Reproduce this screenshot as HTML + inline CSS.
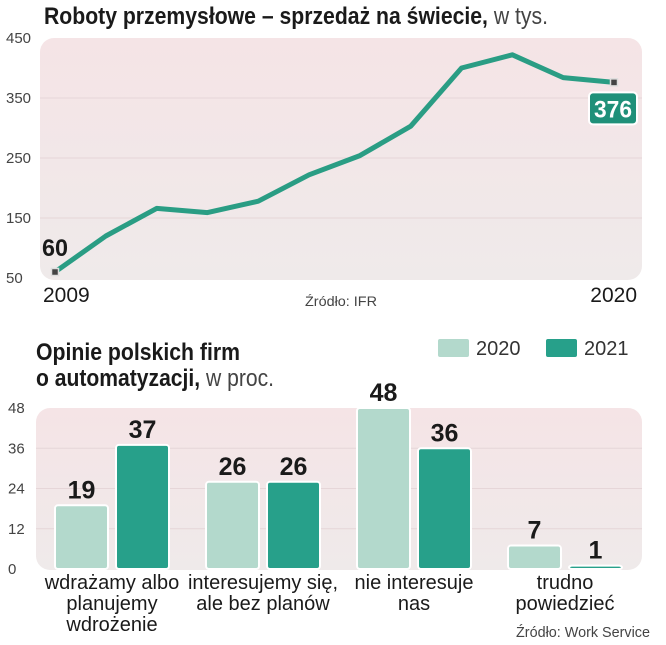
<!DOCTYPE html>
<html><head><meta charset="utf-8"><style>
body{margin:0;background:#fff;width:666px;height:640px;overflow:hidden}
svg text{font-family:"Liberation Sans Narrow","Liberation Sans",sans-serif}
</style></head><body>
<svg id="c" width="666" height="640" xmlns="http://www.w3.org/2000/svg">
<defs>
<linearGradient id="bg" x1="0" y1="0" x2="0" y2="1"><stop offset="0" stop-color="#f5e4e6"/><stop offset="1" stop-color="#efeaea"/></linearGradient>
</defs>
<text x="44" y="24" font-size="24" font-weight="bold" fill="#1a1a1a" textLength="504" lengthAdjust="spacingAndGlyphs">Roboty przemysłowe – sprzedaż na świecie,<tspan font-weight="normal" fill="#444"> w tys.</tspan></text>
<rect x="40" y="38" width="602" height="242" rx="14" fill="url(#bg)"/>
<g id="lineGrid"></g>
<g id="lineMarks"></g>
<text x="43" y="302" font-size="21" fill="#1a1a1a">2009</text>
<text x="637" y="302" font-size="21" fill="#1a1a1a" text-anchor="end">2020</text>
<text x="305" y="306" font-size="14" fill="#444" textLength="72" lengthAdjust="spacingAndGlyphs">Źródło: IFR</text>

<text x="36" y="360" font-size="24" font-weight="bold" fill="#1a1a1a" textLength="204" lengthAdjust="spacingAndGlyphs">Opinie polskich firm</text>
<text x="36" y="386" font-size="24" font-weight="bold" fill="#1a1a1a" textLength="238" lengthAdjust="spacingAndGlyphs">o automatyzacji,<tspan font-weight="normal" fill="#444"> w proc.</tspan></text>
<g>
<rect x="437" y="338" width="33" height="20" rx="3" fill="#b3d9cc" stroke="#fff" stroke-width="2"/>
<text x="476" y="355" font-size="20" fill="#333">2020</text></g>
<g>
<rect x="545" y="338" width="33" height="20" rx="3" fill="#27a08a" stroke="#fff" stroke-width="2"/>
<text x="584" y="355" font-size="20" fill="#333">2021</text></g>
<rect x="36" y="408" width="606" height="162" rx="14" fill="url(#bg)"/>
<g id="barGrid"></g>
<g id="barMarks"></g>
<text x="650" y="637" font-size="15" fill="#444" text-anchor="end" textLength="134" lengthAdjust="spacingAndGlyphs">Źródło: Work Service</text>
</svg>
<script>
const years = [2009,2010,2011,2012,2013,2014,2015,2016,2017,2018,2019,2020];
const sales = [60,120,166,159,178,222,254,303,400,422,384,376];
const lineTicks = [50,150,250,350,450];
const categories = [["wdrażamy albo","planujemy","wdrożenie"],["interesujemy się,","ale bez planów"],["nie interesuje","nas"],["trudno","powiedzieć"]];
const values2020 = [19,26,48,7];
const values2021 = [37,26,36,1];
const barTicks = [0,12,24,36,48];

const NS="http://www.w3.org/2000/svg";
function mk(tag,attrs,parent){const e=document.createElementNS(NS,tag);for(const k in attrs)e.setAttribute(k,attrs[k]);parent.appendChild(e);return e;}
const lx=i=>55+i*(614-55)/(years.length-1);
const ly=v=>278-(v-50)*(240/400);
const lg=document.getElementById('lineGrid'), lm=document.getElementById('lineMarks');
lineTicks.forEach(t=>{
 if(t>50&&t<450){const g=mk('line',{x1:40,x2:642,y1:ly(t),y2:ly(t),stroke:'#e6d6d8','stroke-width':1},lg);
 
 }
 const tx=mk('text',{x:6,y:ly(t)+5,'font-size':15,fill:'#444'},lg);tx.textContent=t;
 
 
});
const pts=sales.map((v,i)=>lx(i)+','+ly(v)).join(' ');
const pl=mk('polyline',{points:pts,fill:'none',stroke:'#2a9d84','stroke-width':5,'stroke-linejoin':'round'},lm);


[0,sales.length-1].forEach(i=>{
 const m=mk('rect',{x:lx(i)-3.5,y:ly(sales[i])-3.5,width:7,height:7,fill:'#444',stroke:'#ddd','stroke-width':1.5},lm);
 
 
});
const t0=mk('text',{x:42,y:ly(sales[0])-16,'font-size':24,'font-weight':'bold',fill:'#1a1a1a',textLength:26,lengthAdjust:'spacingAndGlyphs'},lm);t0.textContent=sales[0];


const n=sales.length-1;
const bx=mk('rect',{x:lx(n)-25,y:ly(sales[n])+10,width:48,height:32,rx:4,fill:'#1f9079',stroke:'#fff','stroke-width':2},lm);


const t1=mk('text',{x:lx(n)-1,y:ly(sales[n])+35,'font-size':24,'font-weight':'bold',fill:'#fff','text-anchor':'middle',textLength:38,lengthAdjust:'spacingAndGlyphs'},lm);t1.textContent=sales[n];


const by=v=>569-v*(161/48);
const bg=document.getElementById('barGrid'), bm=document.getElementById('barMarks');
barTicks.forEach(t=>{
 if(t>0&&t<48){const g=mk('line',{x1:36,x2:642,y1:by(t),y2:by(t),stroke:'#e6d6d8','stroke-width':1},bg);
 
 }
 const tx=mk('text',{x:8,y:by(t)+5,'font-size':15,fill:'#444'},bg);tx.textContent=t;
 
 
});
const gx=i=>55+i*151, bw=53;
categories.forEach((c,i)=>{
 [[values2020,'#b3d9cc',0,'2020'],[values2021,'#27a08a',61,'2021']].forEach(([arr,col,off,yr])=>{
  const v=arr[i],x=gx(i)+off,h=Math.max(569-by(v),2);
  const r=mk('rect',{x:x,y:569-h,width:bw,height:h,rx:3,fill:col,stroke:'#fff','stroke-width':2},bm);
  
  
  const t=mk('text',{x:x+bw/2,y:569-h-7,'font-size':25,'font-weight':'bold',fill:'#1a1a1a','text-anchor':'middle'},bm);t.textContent=v;
  
  
 });
 c.forEach((line,j)=>{
  const t=mk('text',{x:gx(i)+57,y:589+j*21,'font-size':20,fill:'#1a1a1a','text-anchor':'middle'},bm);t.textContent=line;
  
  
 });
});
</script>
</body></html>
